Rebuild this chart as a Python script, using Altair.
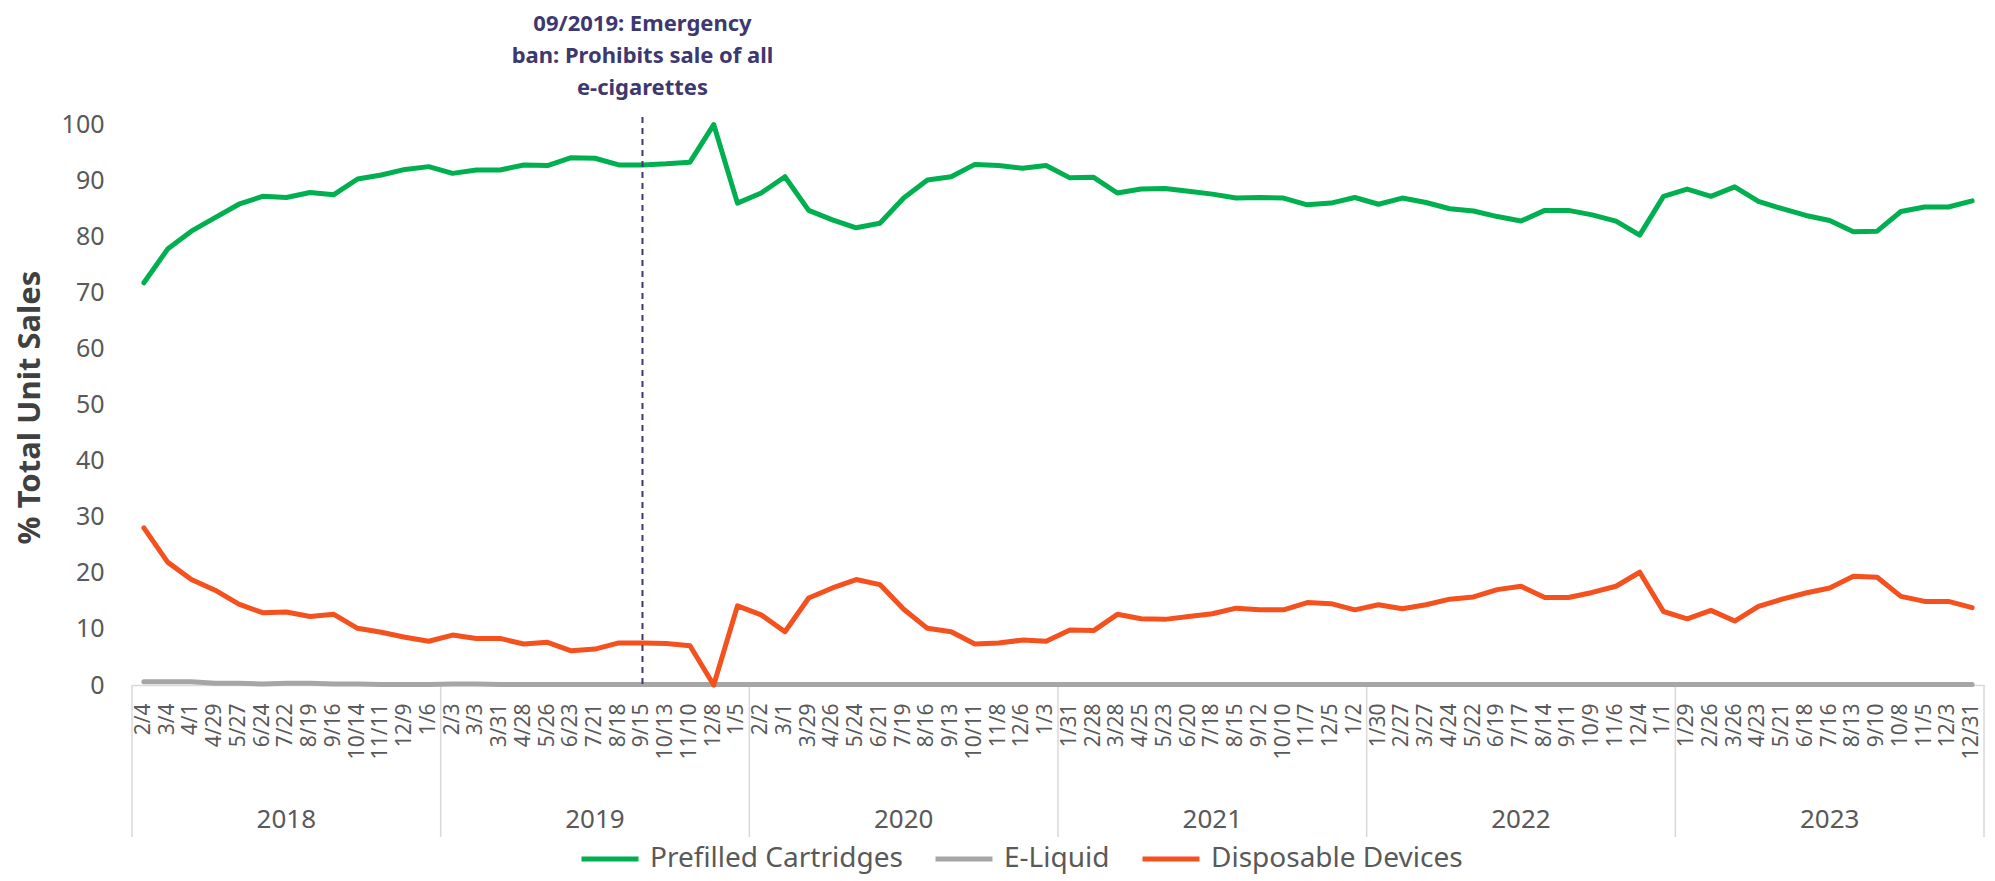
import altair as alt
import pandas as pd

years = ["2018", "2019", "2020", "2021", "2022", "2023"]
periods = {
    "2018": ["2/4", "3/4", "4/1", "4/29", "5/27", "6/24", "7/22", "8/19", "9/16", "10/14", "11/11", "12/9", "1/6"],
    "2019": ["2/3", "3/3", "3/31", "4/28", "5/26", "6/23", "7/21", "8/18", "9/15", "10/13", "11/10", "12/8", "1/5"],
    "2020": ["2/2", "3/1", "3/29", "4/26", "5/24", "6/21", "7/19", "8/16", "9/13", "10/11", "11/8", "12/6", "1/3"],
    "2021": ["1/31", "2/28", "3/28", "4/25", "5/23", "6/20", "7/18", "8/15", "9/12", "10/10", "11/7", "12/5", "1/2"],
    "2022": ["1/30", "2/27", "3/27", "4/24", "5/22", "6/19", "7/17", "8/14", "9/11", "10/9", "11/6", "12/4", "1/1"],
    "2023": ["1/29", "2/26", "3/26", "4/23", "5/21", "6/18", "7/16", "8/13", "9/10", "10/8", "11/5", "12/3", "12/31"],
}

prefilled = [71.7, 77.7, 80.9, 83.3, 85.7, 87.1, 86.9, 87.8, 87.4, 90.2, 90.9, 91.9, 92.4,
             91.2, 91.8, 91.8, 92.7, 92.6, 94.0, 93.9, 92.7, 92.7, 92.9, 93.2, 99.9, 85.9,
             87.7, 90.6, 84.6, 82.9, 81.5, 82.3, 86.8, 90.0, 90.6, 92.8, 92.6, 92.1, 92.6,
             90.4, 90.5, 87.7, 88.4, 88.5, 88.0, 87.5, 86.8, 86.9, 86.8, 85.6, 85.9, 86.9,
             85.7, 86.8, 86.0, 84.9, 84.5, 83.5, 82.7, 84.6, 84.6, 83.8, 82.7, 80.2, 87.1,
             88.4, 87.1, 88.8, 86.2, 84.9, 83.7, 82.8, 80.8, 80.9, 84.4, 85.2, 85.2, 86.3]
eliquid = [0.6, 0.6, 0.6, 0.3, 0.3, 0.2, 0.3, 0.3, 0.2, 0.2, 0.1, 0.1, 0.1,
           0.2, 0.2, 0.1, 0.1, 0.1, 0.1, 0.1, 0.1, 0.1, 0.1, 0.1, 0.1, 0.1,
           0.1, 0.1, 0.1, 0.1, 0.1, 0.1, 0.1, 0.1, 0.1, 0.1, 0.1, 0.1, 0.1,
           0.1, 0.1, 0.1, 0.1, 0.1, 0.1, 0.1, 0.1, 0.1, 0.1, 0.1, 0.1, 0.1,
           0.1, 0.1, 0.1, 0.1, 0.1, 0.1, 0.1, 0.1, 0.1, 0.1, 0.1, 0.1, 0.1,
           0.1, 0.1, 0.1, 0.1, 0.1, 0.1, 0.1, 0.1, 0.1, 0.1, 0.1, 0.1, 0.1]
disposable = [28.0, 21.9, 18.8, 16.9, 14.4, 12.9, 13.0, 12.2, 12.6, 10.1, 9.4, 8.5, 7.8,
              8.9, 8.3, 8.3, 7.3, 7.6, 6.1, 6.4, 7.5, 7.5, 7.4, 7.0, 0.0, 14.1,
              12.5, 9.5, 15.5, 17.3, 18.8, 17.9, 13.5, 10.1, 9.5, 7.3, 7.5, 8.0, 7.8,
              9.8, 9.7, 12.6, 11.8, 11.7, 12.2, 12.7, 13.7, 13.4, 13.4, 14.7, 14.5, 13.4,
              14.3, 13.6, 14.3, 15.3, 15.7, 17.0, 17.6, 15.6, 15.6, 16.5, 17.6, 20.1, 13.1,
              11.8, 13.3, 11.4, 14.0, 15.3, 16.4, 17.3, 19.4, 19.2, 15.8, 14.9, 14.9, 13.8]

series_names = ["Prefilled Cartridges", "E-Liquid", "Disposable Devices"]
series_colors = ["#00B050", "#A6A6A6", "#F4511E"]
annotation_lines = ["09/2019: Emergency", "ban: Prohibits sale of all", "e-cigarettes"]
annotation_key_label = ("2019", "9/15")

# ---- build tables ----
keys, key_year = [], []
i = 0
for y in years:
    for lab in periods[y]:
        keys.append(f"{i:02d}|{lab}")
        key_year.append(y)
        i += 1

rows = []
for name, vals in zip(series_names, [prefilled, eliquid, disposable]):
    for k, v in zip(keys, vals):
        rows.append({"key": k, "series": name, "value": v})
df = pd.DataFrame(rows)

first_keys = []
mid_keys = []
for y in years:
    ks = [k for k, yy in zip(keys, key_year) if yy == y]
    first_keys.append(ks[0])
    mid_keys.append(ks[len(ks) // 2])
sep_df = pd.DataFrame({"key": first_keys})
end_df = pd.DataFrame({"key": [keys[-1]]})
year_df = pd.DataFrame({"key": mid_keys, "year": years})
ann_key = [k for k, yy in zip(keys, key_year)
           if yy == annotation_key_label[0] and k.split("|")[1] == annotation_key_label[1]][0]
ann_df = pd.DataFrame({"key": [ann_key]})

W, H = 1852, 561
FONT = "Noto Sans"
GRAY_TXT = "#595959"

xaxis = alt.Axis(title=None, labelAngle=270, labelFontSize=21, labelColor=GRAY_TXT, labelFont=FONT,
                 labelPadding=18, ticks=False, domainColor="#D9D9D9", domainWidth=1.5,
                 labelOverlap=False, labelBound=False,
                 labelExpr="split(datum.value, '|')[1]")
xenc = alt.X("key:N", sort=keys, axis=xaxis, scale=alt.Scale(paddingInner=0, paddingOuter=0))

color = alt.Color("series:N",
                  scale=alt.Scale(domain=series_names, range=series_colors),
                  legend=alt.Legend(orient="none", legendX=447, legendY=704, direction="horizontal",
                                    title=None, symbolType="stroke", symbolSize=3249,
                                    symbolStrokeWidth=5, labelFontSize=28, labelColor=GRAY_TXT,
                                    labelFont=FONT, columnPadding=22, labelOffset=9,
                                    labelLimit=500))

yenc = alt.Y("value:Q", scale=alt.Scale(domain=[0, 100], nice=False),
             axis=alt.Axis(title="% Total Unit Sales", values=list(range(0, 101, 10)),
                           grid=False, domain=False, ticks=False, labelFontSize=25,
                           labelColor=GRAY_TXT, labelFont=FONT, labelPadding=28,
                           titleFontSize=31, titleFont=FONT, titleFontWeight="bold",
                           titleColor="#404040", titleX=-102, titleY=283, titleAngle=270,
                           titleAlign="center", titleBaseline="middle"))

base = alt.Chart(df).mark_line(strokeWidth=5, strokeJoin="round", strokeCap="round").encode(
    x=xenc, y=yenc, color=color)
lines = [base.transform_filter(alt.datum.series == n) for n in series_names]

sep = alt.Chart(sep_df).mark_rule(color="#D9D9D9", strokeWidth=1.5).encode(
    x=alt.X("key:N", sort=keys, bandPosition=0, axis=xaxis),
    y=alt.value(H), y2=alt.value(H + 152))
sep_end = alt.Chart(end_df).mark_rule(color="#D9D9D9", strokeWidth=1.5).encode(
    x=alt.X("key:N", sort=keys, bandPosition=1, axis=xaxis),
    y=alt.value(H), y2=alt.value(H + 152))
year_txt = alt.Chart(year_df).mark_text(fontSize=26, font=FONT, color=GRAY_TXT,
                                        baseline="middle").encode(
    x=xenc, y=alt.value(H + 135), text="year:N")

dash = alt.Chart(ann_df).mark_rule(color="#3D3870", strokeWidth=2, strokeDash=[6, 5]).encode(
    x=xenc, y=alt.value(-7), y2=alt.value(H))
ann = alt.Chart(ann_df).mark_text(fontSize=22, font=FONT, fontWeight="bold", color="#3D3870",
                                  baseline="middle", lineHeight=32).encode(
    x=xenc, y=alt.value(-100), text=alt.value(annotation_lines))

chart = alt.layer(sep, sep_end, year_txt, *lines, dash, ann).properties(
    width=W, height=H,
    autosize=alt.AutoSizeParams(type="none"),
    padding={"left": 124, "top": 116, "right": 2, "bottom": 195},
).configure_view(stroke=None)

chart.save("out.html", embed_options={"renderer": "svg", "actions": False})
